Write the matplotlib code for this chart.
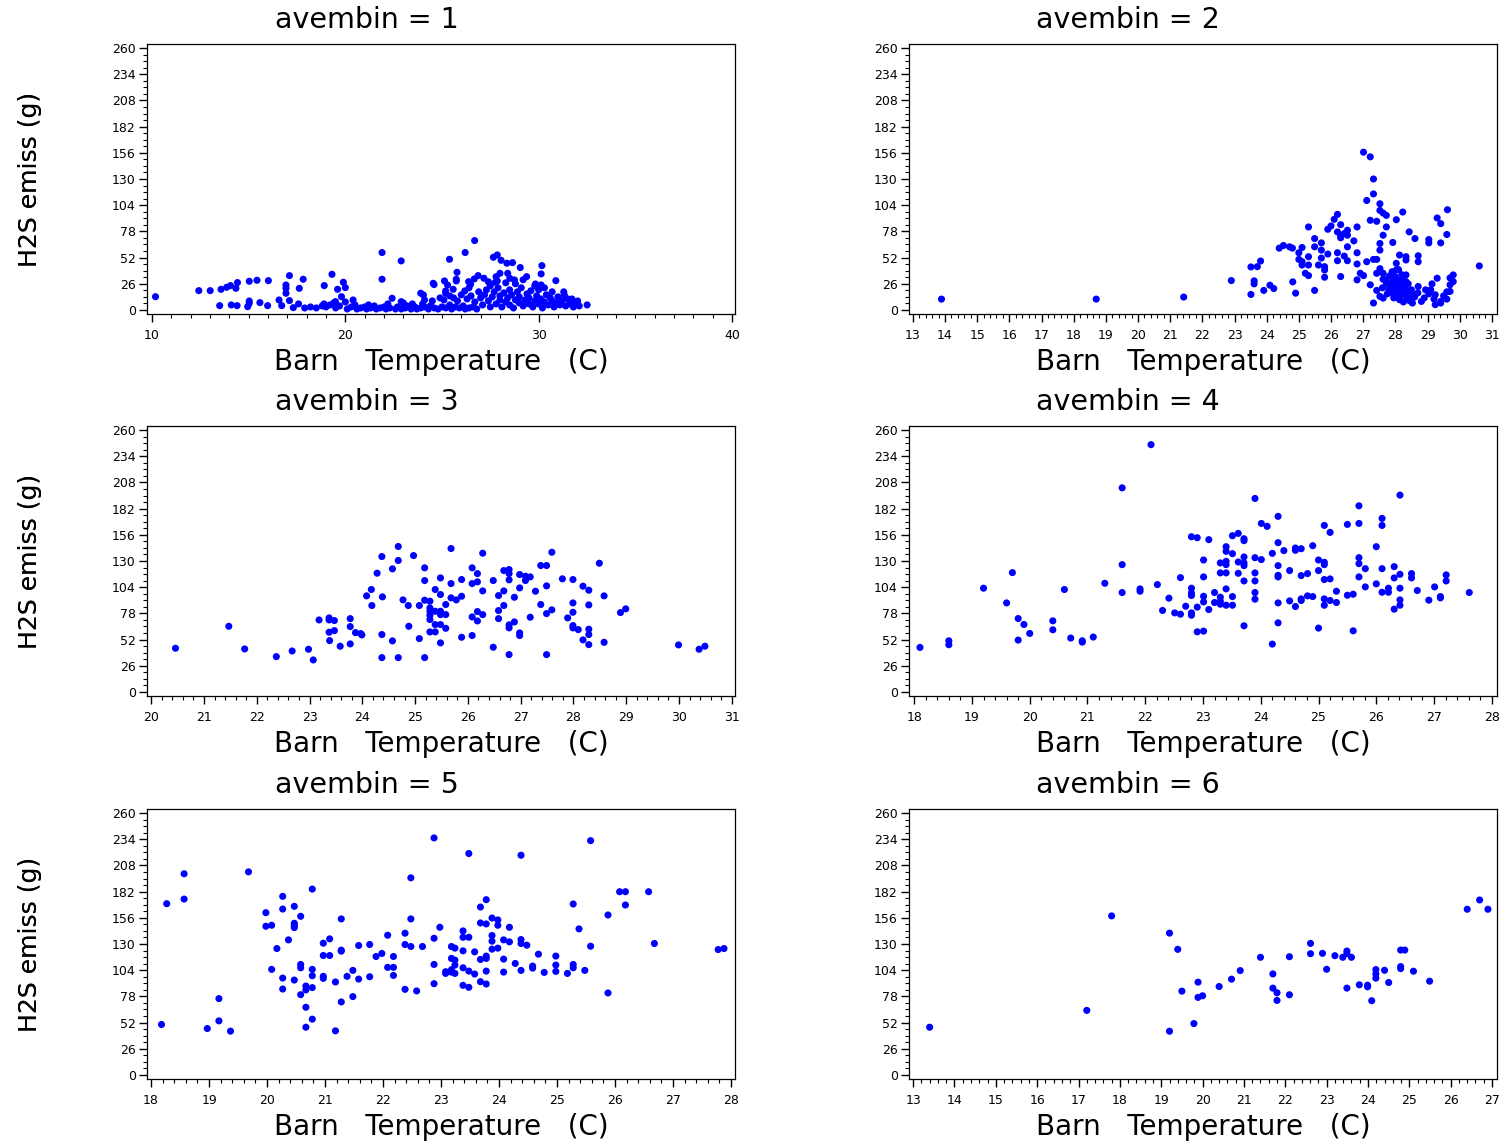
import matplotlib
matplotlib.use("Agg")
import matplotlib.pyplot as plt
from matplotlib.ticker import MultipleLocator
import numpy as np

# ---------------- data ----------------
p1_x = [10.18, 12.42, 13.01, 13.57, 13.86, 14.06, 14.34, 14.42, 15.03, 15.43, 16.02, 13.50, 14.10, 14.40,
        14.95, 15.03, 15.03, 15.58, 15.98, 16.57, 16.71, 16.93, 16.93, 16.93, 17.11, 17.11, 17.31, 17.58,
        17.62, 17.82, 18.91, 19.31, 19.60, 19.90, 20.00, 19.80, 19.49, 20.40, 21.90, 21.90, 22.42, 22.89,
        22.89, 23.47, 23.90, 24.04, 24.10, 24.55, 24.59, 25.13, 25.29, 25.39, 25.19, 25.19, 25.58, 25.78,
        25.74, 25.74, 26.18, 26.20, 26.38, 26.48, 26.69, 26.67, 26.87, 27.17, 27.66, 27.86, 28.00, 28.06,
        27.76, 27.86, 28.36, 28.65, 28.40, 28.51, 28.75, 29.05, 29.38, 29.84, 30.13, 30.13, 30.17, 30.89,
        31.33, 31.72, 32.02, 32.51,
        17.9, 18.2, 18.5, 18.8, 19.0, 19.2, 19.5, 19.7, 20.1, 20.3, 20.5, 20.6, 20.8, 21.0, 21.1, 21.3,
        21.5, 21.6, 21.8, 22.0, 22.1, 22.3, 22.6, 22.7, 22.9, 23.1, 23.2, 23.4, 23.6, 23.7, 23.9, 24.1,
        24.3, 24.4, 24.6, 24.8, 25.0, 25.2, 25.4, 25.5, 25.7, 25.9, 26.1, 26.2, 26.4, 26.6, 26.8,
        18.9, 19.4, 20.0, 21.2, 22.2, 23.0, 24.0, 24.5, 24.9, 25.1, 25.4, 25.6, 25.8, 26.0, 26.3, 26.5,
        26.7, 26.9, 27.0,
        27.1, 27.2, 27.3, 27.4, 27.5, 27.6, 27.7, 27.8, 27.9, 28.0, 28.0, 28.1, 28.2, 28.3, 28.4, 28.5,
        28.5, 28.6, 28.7, 28.8, 28.9, 29.0, 29.0, 29.1, 29.2, 29.3, 29.4, 29.5, 29.5, 29.6, 29.7, 29.8,
        29.9, 30.0, 30.0, 30.1, 30.2, 30.3, 30.4, 30.5, 30.6, 30.7, 30.8, 30.9, 31.0, 31.1, 31.2, 31.4,
        31.5, 31.6, 31.8, 31.9, 32.1, 27.4, 27.8, 28.3, 28.8, 29.2, 29.8, 30.3, 30.7, 31.3, 26.4, 27.5]
p1_y = [13.2, 19.2, 19.2, 20.5, 22.5, 24.2, 21.5, 27.2, 28.5, 29.5, 29.1, 4.3, 5.0, 4.3,
        3.3, 6.6, 8.9, 7.3, 4.3, 9.9, 4.3, 24.8, 21.5, 16.6, 34.1, 9.3, 2.3, 6.0,
        21.5, 30.5, 24.2, 35.4, 20.5, 27.5, 22.2, 13.2, 8.3, 9.9, 57.0, 30.5, 11.6, 48.7,
        8.3, 6.0, 16.6, 14.9, 9.9, 26.5, 25.2, 28.8, 24.8, 50.3, 18.9, 16.6, 20.5, 37.4,
        30.5, 28.8, 18.9, 57.0, 28.1, 25.5, 68.9, 30.8, 34.1, 31.5, 52.3, 54.6, 36.4, 49.3,
        27.5, 28.8, 46.4, 47.0, 36.4, 31.5, 29.8, 42.1, 33.1, 25.8, 24.8, 35.8, 44.0, 29.1,
        14.9, 10.9, 8.9, 5.0,
        2, 3, 2, 4, 3, 5, 2, 4, 1, 3, 5, 1, 2, 3, 1, 2,
        4, 1, 2, 3, 1, 2, 1, 3, 1, 2, 4, 1, 3, 1, 2, 3,
        1, 4, 2, 1, 3, 2, 5, 1, 3, 2, 4, 1, 2, 3, 1,
        6, 7, 8, 5, 6, 7, 6, 9, 12, 10, 14, 12, 9, 15, 11, 14,
        8, 18, 12,
        5, 15, 20, 9, 3, 13, 18, 6, 22, 10, 14, 3, 17, 8, 12, 20,
        5, 15, 2, 10, 18, 7, 13, 22, 4, 10, 16, 6, 12, 19, 3, 9,
        14, 6, 20, 11, 2, 8, 15, 5, 12, 9, 3, 7, 13, 5, 9, 4,
        11, 6, 3, 7, 4, 28, 33, 27, 26, 30, 24, 22, 18, 18, 22, 24]

p2_x = [13.89, 18.70, 21.42, 22.90, 23.51, 23.51, 23.61, 23.61, 23.71, 23.81, 23.91, 24.10, 24.22, 24.39,
        24.52, 24.71, 24.80, 24.81, 24.90, 25.00, 25.00, 25.10, 25.10, 25.10, 25.20, 25.30, 25.30, 25.30,
        25.30, 25.49, 25.49, 25.49, 25.61, 25.70, 25.70, 25.70, 25.80, 25.80, 25.80, 25.90, 25.90, 26.00,
        26.10, 26.20, 26.20, 26.20, 26.20, 26.30, 26.30, 26.30, 26.30, 26.41, 26.41, 26.51, 26.51, 26.51,
        26.51, 26.71, 26.81, 26.81, 26.81, 26.81, 26.91, 27.01, 27.01, 27.11, 27.11, 27.22, 27.22, 27.22,
        27.32, 27.32, 27.32, 27.32, 27.42, 27.42, 27.42, 27.42, 27.52, 27.52, 27.62, 27.52, 27.52, 27.52,
        27.52, 27.62, 27.62, 27.62, 27.62, 27.72, 27.72, 27.72, 27.82, 27.82, 27.92, 27.92, 28.03, 28.03,
        28.03, 28.03, 28.03, 28.03, 28.13, 28.13, 28.13, 28.13, 28.23, 28.23, 28.33, 28.33, 28.33, 28.33,
        28.43, 28.43, 28.53, 28.53, 28.61, 28.71, 28.71, 28.71, 28.81, 28.94, 29.04, 29.04, 29.04, 29.14,
        29.24, 29.24, 29.30, 29.30, 29.41, 29.41, 29.41, 29.41, 29.60, 29.60, 29.62, 29.70, 29.70, 29.70,
        29.80, 29.80, 30.61,
        27.7, 27.8, 27.9, 27.95, 28.0, 28.05, 28.1, 28.15, 28.2, 28.25, 28.3, 28.35, 28.4, 28.45, 28.5,
        28.55, 27.9, 28.1, 28.2, 27.85, 28.0, 28.3, 27.6, 27.75, 28.6, 28.7, 28.9, 29.1, 29.2, 29.5, 29.6]
p2_y = [10.8, 10.8, 12.8, 29.2, 15.4, 42.7, 28.9, 25.9, 43.0, 48.6, 19.4, 24.6, 21.3, 61.4,
        64.0, 62.7, 61.4, 27.9, 16.7, 56.8, 50.2, 62.0, 47.9, 44.6, 36.4, 34.1, 52.9, 44.6,
        82.4, 19.4, 70.9, 62.7, 44.6, 66.6, 59.4, 51.5, 43.0, 39.7, 32.5, 55.5, 80.1, 83.4,
        90.0, 94.9, 77.5, 56.8, 48.9, 84.7, 73.2, 71.6, 33.2, 75.8, 53.5, 79.1, 74.2, 62.7,
        48.9, 68.6, 82.4, 56.8, 45.6, 29.9, 36.4, 34.1, 156.6, 47.9, 108.7, 152.0, 89.0, 25.0,
        130.0, 115.2, 50.2, 6.9, 88.0, 50.2, 36.4, 19.4, 105.4, 98.8, 96.2, 66.0, 59.4, 41.0,
        13.5, 74.2, 36.4, 30.5, 11.8, 93.9, 26.6, 82.4, 33.8, 24.0, 67.0, 16.7, 89.6, 46.3,
        39.7, 29.9, 25.0, 20.7, 54.5, 13.5, 10.2, 20.0, 23.3, 97.2, 52.9, 49.6, 34.8, 28.2,
        77.5, 18.7, 11.8, 6.9, 70.9, 53.8, 47.9, 23.3, 8.5, 20.0, 69.9, 66.6, 16.1, 25.9,
        15.1, 5.3, 31.5, 91.3, 85.7, 66.6, 6.9, 8.5, 74.9, 10.8, 99.5, 25.0, 18.4, 31.8,
        34.8, 28.2, 43.7,
        30, 20, 28, 12, 33, 17, 27, 15, 30, 8, 22, 13, 26, 9, 20,
        15, 38, 40, 35, 24, 22, 16, 22, 16, 13, 17, 12, 20, 11, 14, 18]

p3_x = [20.46, 21.47, 21.77, 22.37, 22.67, 22.98, 23.07, 23.18, 23.37, 23.37, 23.47, 23.37, 23.47, 23.38,
        23.58, 23.77, 23.77, 23.77, 23.87, 23.97, 23.99, 24.08, 24.17, 24.18, 24.28, 24.37, 24.38, 24.37,
        24.37, 24.57, 24.57, 24.68, 24.68, 24.68, 24.77, 24.87, 24.88, 24.97, 25.08, 25.08, 25.18, 25.18,
        25.18, 25.18, 25.28, 25.28, 25.28, 25.28, 25.28, 25.28, 25.38, 25.38, 25.38, 25.38, 25.48, 25.48,
        25.48, 25.48, 25.48, 25.48, 25.58, 25.58, 25.58, 25.68, 25.68, 25.68, 25.78, 25.88, 25.88, 25.88,
        26.08, 26.08, 26.08, 26.08, 26.18, 26.18, 26.18, 26.18, 26.28, 26.28, 26.28, 26.48, 26.48, 26.58,
        26.58, 26.58, 26.68, 26.68, 26.68, 26.78, 26.78, 26.78, 26.78, 26.78, 26.78, 26.88, 26.88, 26.98,
        26.98, 26.98, 26.98, 27.09, 27.09, 27.18, 27.18, 27.28, 27.38, 27.49, 27.38, 27.49, 27.49, 27.49,
        27.59, 27.59, 27.79, 27.89, 27.99, 27.99, 27.99, 27.99, 27.99, 28.09, 28.18, 28.18, 28.29, 28.29,
        28.29, 28.29, 28.29, 28.49, 28.58, 28.58, 28.89, 28.99, 29.99, 30.38, 30.49]
p3_y = [43.4, 65.2, 42.7, 35.1, 40.7, 42.4, 31.8, 71.5, 73.5, 71.5, 70.9, 59.3, 60.9, 51.0,
        45.4, 72.8, 64.9, 47.7, 58.9, 57.9, 56.6, 95.4, 101.7, 85.8, 117.9, 134.4, 94.4, 57.0,
        34.1, 50.7, 122.2, 144.4, 130.5, 34.1, 91.4, 85.8, 65.2, 135.4, 85.8, 53.0, 123.2, 110.6,
        91.1, 34.1, 90.1, 83.4, 80.1, 76.2, 71.9, 59.6, 59.6, 101.7, 66.9, 80.1, 80.1, 113.2,
        96.7, 76.8, 66.9, 48.7, 86.8, 76.8, 63.2, 142.4, 107.6, 93.4, 91.4, 95.0, 111.6, 54.3,
        123.2, 107.6, 74.5, 56.0, 117.5, 109.3, 79.8, 70.5, 137.7, 100.3, 76.8, 110.6, 44.4, 95.7,
        80.8, 72.8, 120.5, 100.3, 85.8, 121.5, 117.5, 111.3, 66.6, 63.6, 37.1, 94.0, 69.5, 116.6,
        103.3, 58.6, 56.0, 114.9, 110.6, 114.2, 74.2, 100.0, 125.5, 125.5, 86.8, 105.3, 77.8, 37.1,
        138.7, 81.5, 112.3, 73.5, 111.6, 88.4, 79.1, 65.9, 63.6, 61.9, 105.0, 51.7, 101.0, 86.4,
        62.3, 57.0, 47.0, 127.8, 95.4, 49.3, 78.8, 82.5, 46.7, 42.4, 45.4]

p4_x = [18.10, 18.60, 18.60, 19.20, 19.60, 19.70, 19.80, 19.80, 19.90, 20.00, 20.40, 20.40, 20.60, 20.71,
        20.91, 20.91, 21.10, 21.30, 21.60, 21.60, 21.60, 21.91, 21.91, 22.10, 22.21, 22.30, 22.41, 22.51,
        22.61, 22.61, 22.70, 22.80, 22.90, 22.80, 22.80, 22.80, 22.80, 22.80, 22.90, 22.90, 23.01, 23.01,
        23.01, 23.01, 23.01, 23.10, 23.10, 23.20, 23.20, 23.30, 23.30, 23.30, 23.30, 23.30, 23.40, 23.40,
        23.40, 23.40, 23.40, 23.40, 23.40, 23.51, 23.51, 23.51, 23.51, 23.61, 23.61, 23.61, 23.71, 23.71,
        23.71, 23.71, 23.71, 23.71, 23.71, 23.90, 23.90, 23.90, 23.90, 23.90, 23.90, 24.01, 24.01, 24.11,
        24.20, 24.20, 24.30, 24.30, 24.30, 24.30, 24.30, 24.30, 24.30, 24.40, 24.50, 24.50, 24.60, 24.60,
        24.70, 24.60, 24.70, 24.70, 24.70, 24.81, 24.81, 24.90, 24.90, 25.00, 25.00, 25.00, 25.10, 25.10,
        25.10, 25.10, 25.10, 25.10, 25.20, 25.20, 25.20, 25.31, 25.31, 25.50, 25.50, 25.60, 25.60, 25.70,
        25.70, 25.70, 25.70, 25.70, 25.81, 25.81, 26.00, 26.00, 26.10, 26.10, 26.10, 26.10, 26.21, 26.21,
        26.31, 26.31, 26.31, 26.41, 26.41, 26.41, 26.41, 26.41, 26.61, 26.61, 26.71, 26.91, 27.01, 27.11,
        27.11, 27.21, 27.21, 27.61]
p4_y = [44.2, 50.8, 46.9, 103.0, 88.4, 118.5, 72.9, 51.5, 67.0, 58.1, 70.6, 61.7, 101.7, 53.5,
        50.8, 49.5, 54.5, 107.9, 202.6, 126.4, 98.7, 102.3, 100.0, 245.5, 106.6, 80.9, 93.1, 78.5,
        113.5, 77.2, 85.1, 154.1, 153.1, 103.0, 98.3, 95.7, 78.5, 76.2, 84.2, 59.7, 60.4, 131.0,
        114.2, 95.0, 89.4, 151.2, 81.8, 98.7, 88.8, 128.1, 118.2, 94.1, 90.1, 87.1, 144.2, 139.6,
        129.7, 126.4, 118.2, 102.3, 86.1, 155.1, 137.3, 94.7, 86.1, 157.4, 129.0, 117.8, 152.1, 150.2,
        134.0, 128.1, 125.4, 110.2, 65.7, 192.1, 133.3, 118.2, 110.2, 98.7, 92.1, 167.3, 131.4, 164.4,
        137.6, 47.5, 174.3, 148.2, 125.4, 115.8, 114.2, 88.4, 68.6, 140.3, 120.5, 90.4, 142.9, 140.6,
        142.2, 84.8, 115.5, 92.4, 90.8, 117.5, 95.4, 145.2, 94.7, 131.0, 120.5, 63.4, 165.3, 128.7,
        126.4, 111.6, 92.4, 86.1, 158.4, 112.2, 90.8, 100.0, 88.8, 166.3, 96.0, 97.0, 60.7, 184.8,
        167.3, 133.3, 127.4, 114.2, 122.4, 104.3, 144.2, 107.3, 172.3, 165.3, 122.4, 99.0, 99.0, 103.0,
        124.4, 113.2, 82.2, 195.4, 116.8, 103.0, 91.4, 86.1, 117.5, 113.2, 100.7, 91.1, 104.3, 94.7,
        93.4, 116.2, 110.2, 98.7]

p5_x = [18.18, 18.27, 18.57, 18.57, 18.97, 19.17, 19.17, 19.37, 19.68, 19.98, 19.98, 20.08, 20.08, 20.17,
        20.27, 20.27, 20.27, 20.27, 20.37, 20.47, 20.47, 20.47, 20.47, 20.47, 20.58, 20.58, 20.58, 20.58,
        20.67, 20.67, 20.67, 20.67, 20.78, 20.78, 20.78, 20.78, 20.78, 20.97, 20.97, 21.08, 20.97, 20.97,
        21.08, 21.18, 21.18, 21.28, 21.28, 21.28, 21.28, 21.38, 21.48, 21.48, 21.58, 21.58, 21.77, 21.77,
        21.88, 21.98, 22.08, 22.08, 22.18, 22.18, 22.18, 22.38, 22.38, 22.38, 22.48, 22.48, 22.48, 22.58,
        22.68, 22.88, 22.88, 22.88, 22.88, 22.98, 23.08, 23.08, 23.18, 23.18, 23.18, 23.18, 23.24, 23.24,
        23.24, 23.24, 23.38, 23.38, 23.38, 23.38, 23.38, 23.48, 23.48, 23.48, 23.48, 23.58, 23.58, 23.68,
        23.68, 23.68, 23.68, 23.78, 23.78, 23.78, 23.78, 23.78, 23.78, 23.88, 23.88, 23.88, 23.88, 23.98,
        23.98, 23.98, 24.08, 24.08, 24.08, 24.18, 24.18, 24.28, 24.38, 24.38, 24.38, 24.38, 24.48, 24.68,
        24.58, 24.58, 24.78, 24.98, 24.98, 24.98, 25.18, 25.28, 25.28, 25.28, 25.38, 25.48, 25.58, 25.58,
        25.88, 25.88, 26.08, 26.18, 26.18, 26.58, 26.68, 27.78, 27.88]
p5_y = [50.1, 170.0, 199.7, 174.6, 46.1, 75.8, 53.7, 43.5, 201.6, 161.1, 147.6, 148.6, 104.8, 125.5,
        177.3, 164.7, 96.2, 85.3, 134.1, 167.4, 150.6, 148.3, 146.3, 94.2, 157.5, 109.7, 106.4, 79.7,
        88.3, 84.4, 67.2, 47.4, 184.5, 104.8, 98.5, 86.7, 55.4, 130.8, 118.6, 118.6, 97.9, 95.9,
        135.1, 92.3, 43.8, 154.9, 123.9, 122.9, 72.5, 97.9, 103.8, 77.8, 128.5, 95.2, 129.5, 97.5,
        117.6, 120.6, 138.7, 106.8, 117.6, 106.8, 98.8, 140.7, 129.5, 85.0, 195.7, 154.9, 127.5, 83.4,
        127.5, 235.3, 135.7, 109.7, 90.6, 146.6, 102.5, 100.8, 127.5, 115.7, 104.4, 102.1, 125.9, 114.0,
        109.1, 100.8, 143.0, 136.7, 123.2, 106.4, 89.0, 219.8, 136.7, 103.1, 87.0, 122.2, 100.2, 166.7,
        150.9, 114.7, 92.6, 174.0, 149.9, 118.0, 115.7, 103.1, 90.3, 155.8, 138.4, 132.8, 124.9, 153.9,
        148.6, 125.9, 134.1, 115.0, 102.1, 146.6, 132.1, 110.7, 218.1, 134.4, 130.5, 103.8, 128.8, 119.9,
        108.1, 106.1, 101.8, 118.0, 109.1, 102.8, 100.8, 169.7, 109.7, 106.4, 145.0, 103.8, 232.6, 127.8,
        158.8, 81.4, 181.9, 181.9, 168.7, 181.9, 130.5, 124.5, 125.5]

p6_x = [13.40, 17.20, 17.80, 19.20, 19.20, 19.40, 19.50, 19.79, 19.89, 19.89, 20.00, 20.40, 20.70, 20.91,
        21.40, 21.70, 21.70, 21.80, 21.80, 22.10, 22.10, 22.61, 22.61, 22.90, 23.00, 23.20, 23.39, 23.49,
        23.49, 23.49, 23.60, 23.79, 23.99, 23.99, 24.09, 24.19, 24.19, 24.19, 24.40, 24.50, 24.79, 24.89,
        24.79, 24.79, 25.10, 25.49, 26.40, 26.70, 26.90]
p6_y = [47.4, 64.1, 157.9, 140.8, 43.4, 124.7, 83.2, 51.0, 92.1, 77.0, 78.6, 87.8, 95.1, 103.6,
        116.8, 100.3, 86.2, 81.6, 74.0, 117.4, 79.6, 130.6, 120.4, 120.7, 104.9, 118.4, 116.8, 123.0,
        120.4, 86.2, 116.8, 89.5, 89.1, 87.5, 73.7, 104.6, 100.3, 96.1, 103.9, 91.8, 124.0, 124.0,
        107.6, 105.6, 103.0, 93.1, 164.5, 173.7, 164.5]

titles = ["avembin = 1", "avembin = 2", "avembin = 3", "avembin = 4", "avembin = 5", "avembin = 6"]
xlabel = "Barn   Temperature   (C)"
ylabel = "H2S emiss (g)"
y_ticks = [0, 26, 52, 78, 104, 130, 156, 182, 208, 234, 260]
x_ticks = [list(range(10, 41, 10)), list(range(13, 32)), list(range(20, 32)),
           list(range(18, 29)), list(range(18, 29)), list(range(13, 28))]
xlims = [(9.74, 40.16), (12.88, 31.16), (19.92, 31.06), (17.91, 28.09), (17.93, 28.07), (12.90, 27.12)]
x_minor = [1, 0.2, 0.2, 0.2, 0.2, 0.2]
series = [(p1_x, p1_y), (p2_x, p2_y), (p3_x, p3_y), (p4_x, p4_y), (p5_x, p5_y), (p6_x, p6_y)]

# ---------------- layout ----------------
W, H = 1506, 1143
fig = plt.figure(figsize=(W / 100, H / 100), dpi=100)
fig.patch.set_facecolor("white")
plt.rcParams['font.family'] = ['DejaVu Sans']

col_left = [147, 909]
col_width = 588
row_top = [44, 426, 809]
row_h = 270
cell_center = [367, 1128]

for i, (xs, ys) in enumerate(series):
    r, c = divmod(i, 2)
    l = col_left[c]
    t = row_top[r]
    ax = fig.add_axes([l / W, 1 - (t + row_h) / H, col_width / W, row_h / H])
    ax.scatter(xs, ys, s=26, color="#0000ff", edgecolors="none", zorder=3)
    ax.set_xlim(*xlims[i])
    ax.set_ylim(-4, 264)
    ax.set_yticks(y_ticks)
    ax.set_xticks(x_ticks[i])
    ax.yaxis.set_minor_locator(MultipleLocator(6.5))
    ax.xaxis.set_minor_locator(MultipleLocator(x_minor[i]))
    ax.tick_params(axis="both", which="major", direction="out", length=6, width=1,
                   labelsize=9, color="black")
    ax.tick_params(axis="both", which="minor", direction="out", length=3, width=0.8)
    ax.tick_params(axis="x", which="major", pad=5)
    ax.tick_params(axis="y", which="major", pad=2)
    for sp in ax.spines.values():
        sp.set_linewidth(0.9)
    # x label centred under the axes
    fig.text((l + col_width / 2) / W, 1 - (t + row_h + 48) / H, xlabel, fontsize=20,
             ha="center", va="center")
    # title centred on cell
    fig.text(cell_center[c] / W, 1 - (t - 24) / H, titles[i], fontsize=20.5,
             ha="center", va="center")
    fig.text(30 / W, 1 - (t + row_h / 2) / H, ylabel, fontsize=18, rotation=90,
             ha="center", va="center")

fig.savefig("out.png", dpi=100, facecolor="white")
